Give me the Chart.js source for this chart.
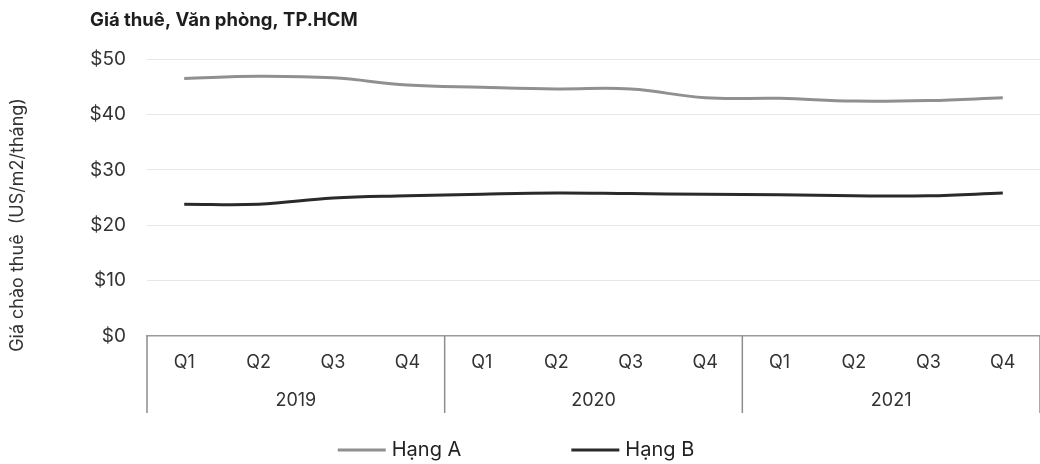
<!DOCTYPE html>
<html lang="vi">
<head>
<meta charset="utf-8">
<title>Giá thuê, Văn phòng, TP.HCM</title>
<script src="https://cdn.jsdelivr.net/npm/chart.js@4.4.1/dist/chart.umd.min.js"></script>
<style>
  html, body { margin: 0; padding: 0; background: #ffffff; }
  #wrap { width: 1040px; height: 464px; }
</style>
</head>
<body>
<div id="wrap"><canvas id="c" width="1040" height="464"></canvas></div>
<script>
// Texts
const chartTitle = 'Giá thuê, Văn phòng, TP.HCM';
const yAxisTitle = 'Giá chào thuê  (US/m2/tháng)';

// Categories: quarters grouped by year
const quarters = ['Q1', 'Q2', 'Q3', 'Q4', 'Q1', 'Q2', 'Q3', 'Q4', 'Q1', 'Q2', 'Q3', 'Q4'];
const years = ['2019', '2020', '2021'];
const quartersPerYear = 4;

// Asking rent, USD/m2/month
const hangA = [46.5, 46.9, 46.6, 45.3, 44.9, 44.6, 44.6, 43.0, 42.9, 42.4, 42.5, 43.0];
const hangB = [23.8, 23.8, 24.9, 25.3, 25.6, 25.8, 25.7, 25.6, 25.5, 25.3, 25.3, 25.8];

// Value axis
const yMin = 0;
const yMax = 50;
const yStep = 10;

const FONT = 'Inter, "Open Sans", sans-serif';
const TEXT = '#333333';

// Title, rotated axis title, year dividers and legend
const decorations = {
  id: 'decorations',
  afterDraw(chart) {
    const { ctx, chartArea, scales } = chart;
    const x = scales.x;
    const yr = scales.years;
    const step = x.getPixelForValue(1) - x.getPixelForValue(0);

    ctx.save();

    // year separators across the category band
    ctx.strokeStyle = '#8c8c8c';
    ctx.lineWidth = 1.5;
    for (let i = 0; i <= quarters.length; i += quartersPerYear) {
      const px = x.getPixelForValue(i) - step / 2;
      ctx.beginPath();
      ctx.moveTo(px, chartArea.bottom);
      ctx.lineTo(px, yr.bottom);
      ctx.stroke();
    }

    // chart title
    ctx.fillStyle = '#1e1e1e';
    ctx.font = 'bold 18.5px ' + FONT;
    ctx.textAlign = 'left';
    ctx.textBaseline = 'middle';
    ctx.fillText(chartTitle, 90, 20);

    // y axis title
    ctx.save();
    ctx.translate(18, 225);
    ctx.rotate(-Math.PI / 2);
    ctx.font = '18px ' + FONT;
    ctx.fillStyle = TEXT;
    ctx.textAlign = 'center';
    ctx.fillText(yAxisTitle, 0, 0);
    ctx.restore();

    // legend
    const lineLen = 48, gapText = 6, gapItems = 110, legendY = 450;
    ctx.font = '20px ' + FONT;
    const items = chart.data.datasets.map(ds => ({
      ds, w: lineLen + gapText + ctx.measureText(ds.label).width
    }));
    const total = items.reduce((s, it) => s + it.w, 0) + gapItems * (items.length - 1);
    let cx = chart.width / 2 - 4 - total / 2;
    items.forEach(it => {
      ctx.strokeStyle = it.ds.borderColor;
      ctx.lineWidth = it.ds.borderWidth;
      ctx.beginPath();
      ctx.moveTo(cx, legendY);
      ctx.lineTo(cx + lineLen, legendY);
      ctx.stroke();
      ctx.fillStyle = '#222222';
      ctx.textAlign = 'left';
      ctx.fillText(it.ds.label, cx + lineLen + gapText, legendY);
      cx += it.w + gapItems;
    });

    ctx.restore();
  }
};

new Chart(document.getElementById('c'), {
  type: 'line',
  data: {
    labels: quarters,
    datasets: [
      {
        label: 'Hạng A',
        data: hangA,
        borderColor: '#909090',
        borderWidth: 3,
        pointRadius: 0,
        tension: 0.4,
        fill: false
      },
      {
        label: 'Hạng B',
        data: hangB,
        borderColor: '#2a2a2a',
        borderWidth: 3,
        pointRadius: 0,
        tension: 0.4,
        fill: false
      }
    ]
  },
  options: {
    responsive: false,
    animation: false,
    devicePixelRatio: 1,
    layout: { padding: { top: 59, right: 0, bottom: 51, left: 0 } },
    plugins: {
      legend: { display: false },
      title: { display: false },
      tooltip: { enabled: false }
    },
    scales: {
      x: {
        type: 'category',
        offset: true,
        afterFit(scale) { scale.height = 36; },
        grid: { display: false, drawTicks: false },
        border: { display: true, color: '#9a9a9a', width: 1.5 },
        ticks: {
          padding: 16,
          color: TEXT,
          font: { family: FONT, size: 18 },
          maxRotation: 0,
          autoSkip: false
        }
      },
      years: {
        type: 'category',
        labels: years,
        position: 'bottom',
        weight: 1,
        offset: true,
        afterFit(scale) { scale.height = 41; },
        grid: { display: false, drawTicks: false },
        border: { display: false },
        ticks: {
          padding: 18,
          color: TEXT,
          font: { family: FONT, size: 18 },
          maxRotation: 0
        }
      },
      y: {
        min: yMin,
        max: yMax,
        afterFit(scale) { scale.width = 147; },
        grid: {
          drawTicks: false,
          color: ctx => (ctx.tick && ctx.tick.value === 0) ? 'rgba(0,0,0,0)' : '#e6e6e6',
          lineWidth: 1
        },
        border: { display: false },
        ticks: {
          stepSize: yStep,
          padding: 21,
          color: TEXT,
          font: { family: FONT, size: 19 },
          callback: v => '$' + v
        }
      }
    }
  },
  plugins: [decorations]
});
</script>
</body>
</html>
